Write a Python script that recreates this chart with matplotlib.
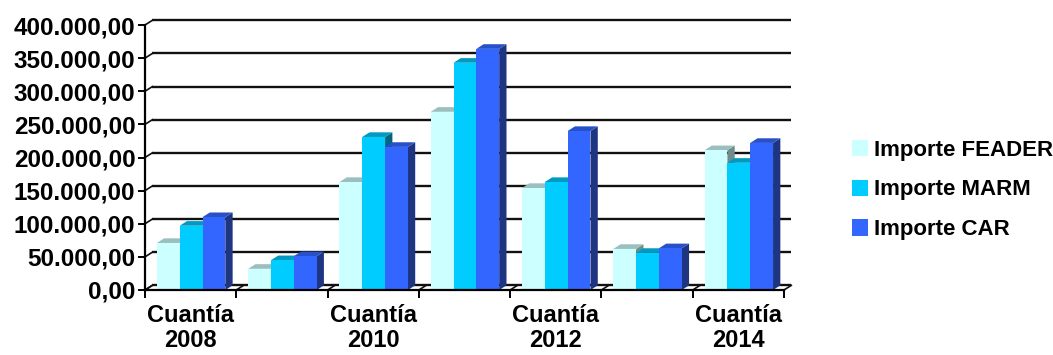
import matplotlib.pyplot as plt
from matplotlib.patches import Polygon, Patch

# data
years = ['2008', '2009', '2010', '2011', '2012', '2013', '2014']
feader = [71000, 32000, 163000, 269000, 154000, 62000, 211000]
marm = [97000, 45000, 231000, 343000, 163000, 56000, 192000]
car = [110000, 51000, 216000, 364000, 240000, 63000, 222000]
series_names = ['Importe FEADER', 'Importe MARM', 'Importe CAR']
yticks = [0, 50000, 100000, 150000, 200000, 250000, 300000, 350000, 400000]

front_cols = ['#CCFFFF', '#00CCFF', '#3366FF']
top_cols = ['#9BBFBF', '#0099BF', '#2850C8']
side_cols = ['#6E8C8C', '#006680', '#1E3582']

plt.rcParams['font.family'] = ['Liberation Sans', 'DejaVu Sans']
plt.rcParams['font.weight'] = 'bold'

fig = plt.figure(figsize=(10.53, 3.55), dpi=100)
ax = fig.add_axes([145 / 1053, 1 - 290 / 355, 639 / 1053, 265 / 355])

n = len(years)
dx = 0.08      # depth offset (category units)
dy = 7000      # depth offset (value units)
w = 0.25
start = 0.13

# back wall gridlines + diagonal tick connectors
for v in yticks:
    ax.plot([dx, n + dx], [v + dy, v + dy], color='#111111', lw=1.7,
            clip_on=False, zorder=1, solid_capstyle='butt')
    ax.plot([0, dx], [v, v + dy], color='#111111', lw=1.2, clip_on=False, zorder=1)
for k in range(n + 1):
    ax.plot([k, k + dx], [0, dy], color='#111111', lw=1.2, clip_on=False, zorder=1)

def bar3d(x0, h, i):
    x1 = x0 + w
    side = [(x1, 0), (x1 + dx, dy), (x1 + dx, h + dy), (x1, h)]
    top = [(x0, h), (x0 + dx, h + dy), (x1 + dx, h + dy), (x1, h)]
    ax.add_patch(Polygon(side, closed=True, fc=side_cols[i], ec='none', zorder=3))
    ax.add_patch(Polygon(top, closed=True, fc=top_cols[i], ec='none', zorder=3))
    ax.bar(x0, h, width=w, align='edge', color=front_cols[i], zorder=3)

for g in range(n):
    for i, vals in enumerate([feader, marm, car]):
        bar3d(g + start + i * w, vals[g], i)

ax.set_xlim(0, n)
ax.set_ylim(0, 400000)
for s in ['top', 'right']:
    ax.spines[s].set_visible(False)
ax.spines['left'].set_linewidth(1.6)
ax.spines['bottom'].set_linewidth(1.6)
ax.spines['left'].set_zorder(5)
ax.spines['bottom'].set_zorder(5)

ax.set_yticks(yticks)
ax.set_yticklabels([f'{v:,.2f}'.replace(',', 'X').replace('.', ',').replace('X', '.')
                    for v in yticks])
ax.tick_params(axis='y', length=5, width=1.4, labelsize=17.5, pad=2)

ax.set_xticks(range(n + 1))
ax.set_xticklabels([])
ax.tick_params(axis='x', which='major', length=6, width=1.4)
ax.set_xticks([k + 0.5 for k in range(n)], minor=True)
ax.set_xticklabels([f'Cuantía\n{y}' if k % 2 == 0 else '' for k, y in enumerate(years)],
                   minor=True, fontsize=17, linespacing=1.12)
ax.tick_params(axis='x', which='minor', length=0, pad=10)
for lab in ax.get_yticklabels() + ax.get_xticklabels(minor=True):
    lab.set_fontweight('bold')

handles = [Patch(facecolor=c, edgecolor='none') for c in front_cols]
fig.legend(handles, series_names, loc='center left', bbox_to_anchor=(836 / 1053, 1 - 190 / 355),
           frameon=False, prop={'size': 16, 'weight': 'bold'},
           handlelength=0.75, handleheight=0.75, handletextpad=0.25, labelspacing=0.85,
           borderpad=0.2)

fig.savefig('out.png', dpi=100)
